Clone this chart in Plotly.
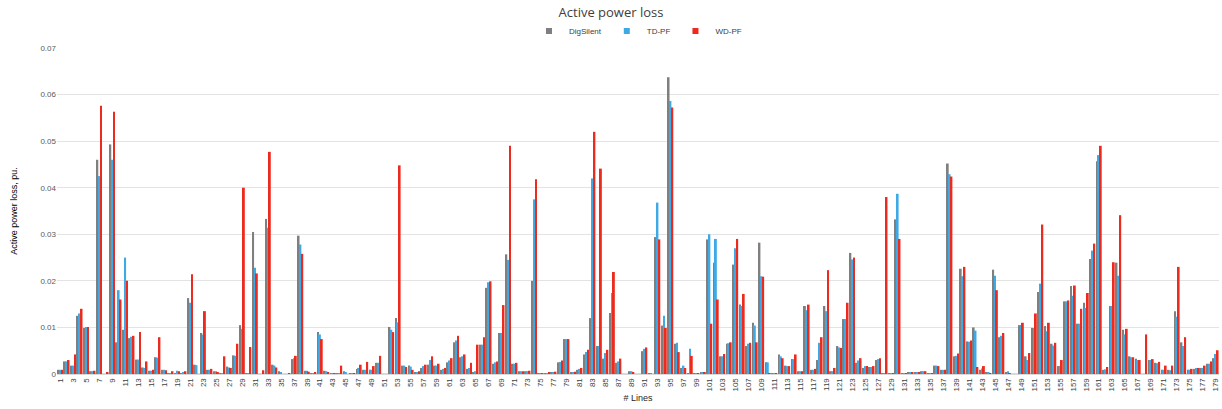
import plotly.graph_objects as go

lines = list(range(1, 180))

digsilent = [
    0.0009, 0.0027, 0.0018, 0.0125, 0.0099, 0.0006, 0.0460, 0.0000, 0.0493, 0.0068,
    0.0095, 0.0077, 0.0031, 0.0014, 0.0007, 0.0036, 0.0009, 0.0001, 0.0002, 0.0001,
    0.0163, 0.0020, 0.0088, 0.0009, 0.0006, 0.0002, 0.0016, 0.0040, 0.0105, 0.0002,
    0.0305, 0.0000, 0.0333, 0.0020, 0.0006, 0.0000, 0.0032, 0.0297, 0.0007, 0.0002,
    0.0090, 0.0007, 0.0002, 0.0002, 0.0006, 0.0001, 0.0011, 0.0009, 0.0009, 0.0024,
    0.0000, 0.0101, 0.0120, 0.0018, 0.0018, 0.0004, 0.0013, 0.0020, 0.0018, 0.0009,
    0.0025, 0.0068, 0.0036, 0.0011, 0.0004, 0.0063, 0.0185, 0.0022, 0.0088, 0.0257,
    0.0022, 0.0006, 0.0006, 0.0200, 0.0002, 0.0002, 0.0003, 0.0025, 0.0075, 0.0004,
    0.0009, 0.0042, 0.0120, 0.0060, 0.0033, 0.0131, 0.0024, 0.0000, 0.0006, 0.0000,
    0.0049, 0.0002, 0.0294, 0.0104, 0.0637, 0.0065, 0.0013, 0.0002, 0.0002, 0.0003,
    0.0289, 0.0239, 0.0038, 0.0065, 0.0235, 0.0149, 0.0060, 0.0110, 0.0282, 0.0025,
    0.0002, 0.0042, 0.0018, 0.0032, 0.0006, 0.0146, 0.0009, 0.0030, 0.0146, 0.0006,
    0.0060, 0.0118, 0.0260, 0.0024, 0.0013, 0.0015, 0.0030, 0.0002, 0.0002, 0.0332,
    0.0002, 0.0004, 0.0003, 0.0006, 0.0002, 0.0018, 0.0009, 0.0452, 0.0038, 0.0226,
    0.0070, 0.0100, 0.0009, 0.0004, 0.0224, 0.0079, 0.0004, 0.0000, 0.0105, 0.0038,
    0.0099, 0.0176, 0.0103, 0.0065, 0.0017, 0.0156, 0.0189, 0.0108, 0.0153, 0.0247,
    0.0457, 0.0009, 0.0146, 0.0239, 0.0095, 0.0038, 0.0033, 0.0000, 0.0030, 0.0024,
    0.0009, 0.0009, 0.0135, 0.0068, 0.0009, 0.0011, 0.0013, 0.0022, 0.0034,
]

td_pf = [
    0.0009, 0.0027, 0.0018, 0.0130, 0.0101, 0.0006, 0.0425, 0.0000, 0.0460, 0.0180,
    0.0250, 0.0080, 0.0031, 0.0013, 0.0007, 0.0035, 0.0009, 0.0002, 0.0007, 0.0004,
    0.0153, 0.0019, 0.0085, 0.0009, 0.0006, 0.0002, 0.0014, 0.0039, 0.0097, 0.0002,
    0.0228, 0.0000, 0.0314, 0.0018, 0.0004, 0.0000, 0.0034, 0.0278, 0.0007, 0.0002,
    0.0085, 0.0006, 0.0002, 0.0002, 0.0004, 0.0001, 0.0013, 0.0009, 0.0009, 0.0024,
    0.0000, 0.0095, 0.0111, 0.0018, 0.0016, 0.0004, 0.0017, 0.0030, 0.0018, 0.0011,
    0.0029, 0.0072, 0.0038, 0.0013, 0.0006, 0.0063, 0.0197, 0.0025, 0.0088, 0.0245,
    0.0022, 0.0006, 0.0006, 0.0375, 0.0002, 0.0002, 0.0004, 0.0026, 0.0075, 0.0004,
    0.0011, 0.0047, 0.0420, 0.0060, 0.0045, 0.0174, 0.0027, 0.0000, 0.0006, 0.0000,
    0.0054, 0.0002, 0.0368, 0.0125, 0.0586, 0.0067, 0.0018, 0.0054, 0.0002, 0.0003,
    0.0300, 0.0290, 0.0038, 0.0066, 0.0270, 0.0146, 0.0065, 0.0104, 0.0210, 0.0025,
    0.0002, 0.0038, 0.0017, 0.0032, 0.0006, 0.0137, 0.0009, 0.0067, 0.0135, 0.0006,
    0.0057, 0.0118, 0.0246, 0.0029, 0.0017, 0.0015, 0.0032, 0.0002, 0.0002, 0.0387,
    0.0002, 0.0004, 0.0003, 0.0006, 0.0002, 0.0018, 0.0009, 0.0429, 0.0039, 0.0210,
    0.0069, 0.0093, 0.0012, 0.0003, 0.0211, 0.0082, 0.0006, 0.0000, 0.0105, 0.0030,
    0.0099, 0.0194, 0.0092, 0.0061, 0.0017, 0.0156, 0.0168, 0.0108, 0.0142, 0.0265,
    0.0470, 0.0010, 0.0146, 0.0211, 0.0085, 0.0036, 0.0030, 0.0000, 0.0030, 0.0023,
    0.0009, 0.0008, 0.0123, 0.0060, 0.0009, 0.0013, 0.0013, 0.0022, 0.0043,
]

wd_pf = [
    0.0009, 0.0030, 0.0042, 0.0140, 0.0101, 0.0007, 0.0576, 0.0004, 0.0563, 0.0160,
    0.0200, 0.0082, 0.0090, 0.0027, 0.0009, 0.0079, 0.0008, 0.0006, 0.0006, 0.0006,
    0.0214, 0.0000, 0.0135, 0.0011, 0.0004, 0.0038, 0.0013, 0.0065, 0.0400, 0.0058,
    0.0216, 0.0008, 0.0477, 0.0014, 0.0000, 0.0002, 0.0039, 0.0258, 0.0005, 0.0004,
    0.0075, 0.0004, 0.0002, 0.0018, 0.0000, 0.0002, 0.0020, 0.0026, 0.0017, 0.0039,
    0.0000, 0.0090, 0.0448, 0.0015, 0.0009, 0.0006, 0.0020, 0.0038, 0.0022, 0.0013,
    0.0034, 0.0082, 0.0042, 0.0024, 0.0063, 0.0079, 0.0199, 0.0027, 0.0148, 0.0490,
    0.0024, 0.0006, 0.0007, 0.0418, 0.0002, 0.0004, 0.0005, 0.0029, 0.0075, 0.0005,
    0.0013, 0.0052, 0.0520, 0.0441, 0.0052, 0.0219, 0.0033, 0.0000, 0.0004, 0.0000,
    0.0057, 0.0000, 0.0289, 0.0099, 0.0572, 0.0047, 0.0013, 0.0039, 0.0002, 0.0004,
    0.0108, 0.0160, 0.0043, 0.0068, 0.0290, 0.0172, 0.0067, 0.0068, 0.0209, 0.0002,
    0.0002, 0.0034, 0.0017, 0.0042, 0.0006, 0.0149, 0.0011, 0.0079, 0.0223, 0.0013,
    0.0056, 0.0153, 0.0250, 0.0034, 0.0017, 0.0017, 0.0034, 0.0380, 0.0002, 0.0290,
    0.0002, 0.0003, 0.0003, 0.0006, 0.0002, 0.0017, 0.0009, 0.0424, 0.0044, 0.0230,
    0.0072, 0.0015, 0.0017, 0.0001, 0.0180, 0.0088, 0.0002, 0.0000, 0.0110, 0.0045,
    0.0130, 0.0321, 0.0110, 0.0067, 0.0030, 0.0158, 0.0190, 0.0140, 0.0174, 0.0280,
    0.0490, 0.0015, 0.0240, 0.0341, 0.0097, 0.0036, 0.0030, 0.0085, 0.0032, 0.0026,
    0.0018, 0.0018, 0.0230, 0.0079, 0.0011, 0.0013, 0.0018, 0.0027, 0.0051,
]

series_names = ["DigSilent", "TD-PF", "WD-PF"]
series_colors = ["#7F7F7F", "#3FA9E6", "#EC2A1E"]

tick_vals = list(range(1, 180, 2))
tick_text = [str(v) for v in tick_vals]
y_ticks = [0, 0.01, 0.02, 0.03, 0.04, 0.05, 0.06, 0.07]
y_tick_text = ["0", "0.01", "0.02", "0.03", "0.04", "0.05", "0.06", "0.07"]

fig = go.Figure()
for name, vals, col in zip(series_names, [digsilent, td_pf, wd_pf], series_colors):
    fig.add_trace(go.Bar(x=lines, y=vals, name=name, marker_color=col,
                         marker_line_width=0, showlegend=False))
# small square legend keys
for name, col in zip(series_names, series_colors):
    fig.add_trace(go.Scatter(x=[None], y=[None], mode="markers", name=name,
                             marker=dict(symbol="square", size=6, color=col)))

fig.update_layout(
    width=1222,
    height=409,
    barmode="group",
    bargap=0.14,
    bargroupgap=0,
    plot_bgcolor="white",
    paper_bgcolor="white",
    font=dict(family="Liberation Sans, Arial, sans-serif", size=8, color="#595959"),
    title=dict(text="Active power loss", x=0.5, xanchor="center",
               y=1 - 12.5 / 409, yref="container", yanchor="middle",
               font=dict(family="Open Sans, sans-serif", size=13, color="#404040")),
    legend=dict(orientation="h", x=0.5, xanchor="center", y=1 - 31 / 409, yanchor="middle",
                yref="container", font=dict(size=8, color="#404040"), itemwidth=30,
                bgcolor="rgba(0,0,0,0)"),
    margin=dict(l=57, r=3, t=48, b=35),
    xaxis=dict(
        tickmode="array", tickvals=tick_vals, ticktext=tick_text, tickangle=-90,
        range=[0.5, 179.5], showgrid=False, ticks="", showline=True, linecolor="#D9D9D9",
        tickfont=dict(size=8, color="#404040"), automargin=False,
        title=dict(text="# Lines", font=dict(size=9, color="#262626"), standoff=4),
    ),
    yaxis=dict(
        range=[0, 0.07], tickvals=y_ticks, ticktext=y_tick_text,
        showgrid=True, gridcolor="#E3E3E3", zeroline=True, zerolinecolor="#D9D9D9",
        tickfont=dict(size=8, color="#595959"), ticks="", automargin=False,
        title=dict(text="Active power loss, pu.", font=dict(size=9, color="#000000"), standoff=21),
    ),
)

fig.write_html("out.html", config={"displayModeBar": False},
               post_script="document.body.style.margin='0px';")
